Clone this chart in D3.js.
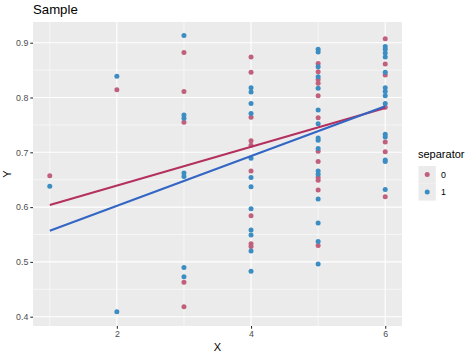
<!DOCTYPE html>
<html><head><meta charset="utf-8">
<script src="https://cdn.jsdelivr.net/npm/d3@7"></script>
<style>body{margin:0;background:#fff}svg{display:block}text{font-family:"Liberation Sans",Arial,sans-serif}</style>
</head><body>
<script>
const title = "Sample";
const xLabel = "X", yLabel = "Y", legendTitle = "separator";
const groups = ["0", "1"];
const xTicks = [2, 4, 6];
const yTicks = [0.4, 0.5, 0.6, 0.7, 0.8, 0.9];
// points of group "0"
const pts0x = [1, 2, 3, 3, 3, 3, 3, 4, 4, 4, 4, 4, 4, 4, 4, 4, 5, 5, 5, 5, 5, 5, 5, 5, 5, 5, 5, 5, 6, 6, 6, 6, 6, 6, 6];
const pts0y = [0.657, 0.814, 0.882, 0.811, 0.755, 0.463, 0.418, 0.874, 0.846, 0.764, 0.721, 0.713, 0.666, 0.584, 0.528, 0.533, 0.862, 0.847, 0.833, 0.826, 0.803, 0.763, 0.702, 0.683, 0.654, 0.649, 0.631, 0.530, 0.907, 0.861, 0.841, 0.782, 0.719, 0.701, 0.619];
// points of group "1"
const pts1x = [1, 2, 2, 3, 3, 3, 3, 3, 3, 3, 4, 4, 4, 4, 4, 4, 4, 4, 4, 4, 4, 4, 5, 5, 5, 5, 5, 5, 5, 5, 5, 5, 5, 5, 5, 5, 5, 5, 6, 6, 6, 6, 6, 6, 6, 6, 6, 6, 6, 6, 6, 6];
const pts1y = [0.638, 0.839, 0.409, 0.913, 0.768, 0.762, 0.662, 0.656, 0.490, 0.473, 0.818, 0.810, 0.789, 0.771, 0.689, 0.654, 0.637, 0.597, 0.558, 0.549, 0.520, 0.483, 0.888, 0.883, 0.856, 0.838, 0.817, 0.777, 0.752, 0.726, 0.722, 0.707, 0.666, 0.615, 0.571, 0.537, 0.496, 0.660, 0.893, 0.888, 0.881, 0.874, 0.846, 0.818, 0.811, 0.803, 0.789, 0.733, 0.728, 0.686, 0.683, 0.632];
// fitted lines: [x, y] endpoints
const fit0 = [[1, 0.604], [6, 0.781]];
const fit1 = [[1, 0.557], [6, 0.784]];

const pointColor = {"0": "#c0607c", "1": "#3b8dc2"};
const lineColor = {"0": "#b3305f", "1": "#3366c4"};

const W = 474, H = 359;
const pl = 33, pr = 402, pt = 22, pb = 326;
const svg = d3.select("body").append("svg").attr("width", W).attr("height", H);
const x = d3.scaleLinear().domain([0.75, 6.25]).range([pl, pr]);
const y = d3.scaleLinear().domain([0.9 + (42.7 - pt) / 548, 0.4 - (pb - 316.7) / 548]).range([pt, pb]);

svg.append("rect").attr("x", pl).attr("y", pt).attr("width", pr - pl).attr("height", pb - pt).attr("fill", "#ebebeb");
const g = svg.append("g");
const yMinor = [0.45, 0.55, 0.65, 0.75, 0.85];
const xMinor = [1, 3, 5];
g.selectAll(".ymn").data(yMinor).join("line").attr("x1", pl).attr("x2", pr)
  .attr("y1", d => y(d)).attr("y2", d => y(d)).attr("stroke", "#fff").attr("stroke-width", 0.55);
g.selectAll(".xmn").data(xMinor).join("line").attr("y1", pt).attr("y2", pb)
  .attr("x1", d => x(d)).attr("x2", d => x(d)).attr("stroke", "#fff").attr("stroke-width", 0.55);
g.selectAll(".ymj").data(yTicks).join("line").attr("x1", pl).attr("x2", pr)
  .attr("y1", d => y(d)).attr("y2", d => y(d)).attr("stroke", "#fff").attr("stroke-width", 1.1);
g.selectAll(".xmj").data(xTicks).join("line").attr("y1", pt).attr("y2", pb)
  .attr("x1", d => x(d)).attr("x2", d => x(d)).attr("stroke", "#fff").attr("stroke-width", 1.1);

// axes
const xAxis = d3.axisBottom(x).tickValues(xTicks).tickSize(2.7).tickPadding(2).tickFormat(d3.format("d"));
const yAxis = d3.axisLeft(y).tickValues(yTicks).tickSize(2.7).tickPadding(2).tickFormat(d3.format(".1f"));
const gx = svg.append("g").attr("transform", `translate(0,${pb})`).call(xAxis);
const gy = svg.append("g").attr("transform", `translate(${pl},0)`).call(yAxis);
[gx, gy].forEach(a => {
  a.select(".domain").remove();
  a.selectAll(".tick line").attr("stroke", "#333").attr("stroke-width", 1.1);
  a.selectAll(".tick text").attr("fill", "#4d4d4d").style("font-size", "8.8px").style("font-family", "Liberation Sans, Arial, sans-serif");
});

// points
const data0 = pts0x.map((v, i) => ({x: v, y: pts0y[i], g: "0"}));
const data1 = pts1x.map((v, i) => ({x: v, y: pts1y[i], g: "1"}));
const all = data0.concat(data1);
svg.append("g").selectAll("circle").data(all).join("circle")
  .attr("cx", d => x(d.x)).attr("cy", d => y(d.y)).attr("r", 2.5)
  .attr("fill", d => pointColor[d.g]);

// lines
const line = d3.line().x(d => x(d[0])).y(d => y(d[1]));
svg.append("path").attr("d", line(fit0)).attr("fill", "none").attr("stroke", lineColor["0"]).attr("stroke-width", 2.1);
svg.append("path").attr("d", line(fit1)).attr("fill", "none").attr("stroke", lineColor["1"]).attr("stroke-width", 2.1);

// titles
svg.append("text").attr("x", pl).attr("y", 14).text(title).style("font-size", "13.2px").attr("fill", "#000");
svg.append("text").attr("x", (pl + pr) / 2).attr("y", 351).attr("text-anchor", "middle").text(xLabel).style("font-size", "11px");
svg.append("text").attr("transform", `translate(11,${(pt + pb) / 2}) rotate(-90)`).attr("text-anchor", "middle").text(yLabel).style("font-size", "11px");

// legend
const lg = svg.append("g");
lg.append("text").attr("x", 418).attr("y", 158).text(legendTitle).style("font-size", "11px");
groups.forEach((k, i) => {
  const ky = 166 + i * 17.3;
  lg.append("rect").attr("x", 418.5).attr("y", ky).attr("width", 17.3).attr("height", 17.3).attr("fill", "#ebebeb");
  lg.append("circle").attr("cx", 427.2).attr("cy", ky + 8.6).attr("r", 2.5).attr("fill", pointColor[k]);
  lg.append("text").attr("x", 441).attr("y", ky + 11.8).text(k).style("font-size", "8.8px").attr("fill", "#000");
});
</script>
</body></html>
